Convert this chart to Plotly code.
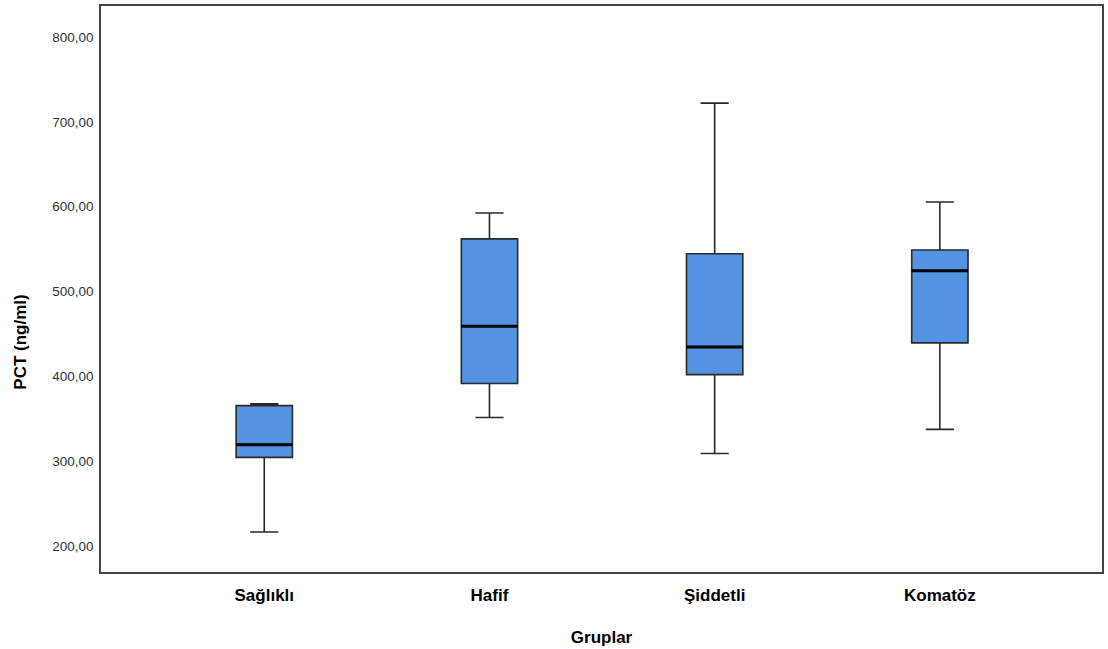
import plotly.graph_objects as go

groups = ["Sağlıklı", "Hafif", "Şiddetli", "Komatöz"]
q1_vals = [304.5, 391.5, 402.0, 439.5]
median_vals = [319.5, 459.0, 434.5, 524.5]
q3_vals = [365.5, 562.0, 544.5, 549.0]
lower_vals = [216.5, 351.5, 309.0, 337.5]
upper_vals = [367.5, 592.5, 722.0, 605.5]
y_ticks = [200, 300, 400, 500, 600, 700, 800]

positions = list(range(len(groups)))
box_half = 0.125

fig = go.Figure()
fig.add_trace(go.Box(
    x=positions,
    q1=q1_vals, median=median_vals, q3=q3_vals,
    lowerfence=lower_vals, upperfence=upper_vals,
    width=2 * box_half,
    whiskerwidth=0.5,
    fillcolor="#5393E2",
    line=dict(color="#2a2a2a", width=1.6),
    boxpoints=False,
    hoverinfo="skip",
    showlegend=False,
))

mx, my = [], []
for p, m in zip(positions, median_vals):
    mx += [p - box_half, p + box_half, None]
    my += [m, m, None]
fig.add_trace(go.Scatter(
    x=mx, y=my, mode="lines",
    line=dict(color="#000000", width=3),
    hoverinfo="skip", showlegend=False,
))

fig.update_layout(
    width=1108, height=649,
    margin=dict(l=101, r=4, t=4, b=77),
    paper_bgcolor="white", plot_bgcolor="white",
    separators=",.",
    font=dict(family="Liberation Sans, Arial, sans-serif", color="#222222"),
    xaxis=dict(
        range=[-0.725, 3.72],
        tickvals=positions, ticktext=groups,
        tickfont=dict(size=17, family="Liberation Sans, Arial, sans-serif",
                      color="#000000", weight="bold"),
        ticklabelstandoff=7,
        showgrid=False, zeroline=False,
        showline=True, linecolor="#444444", linewidth=1.5, mirror=True,
        ticks="",
        title=dict(text="Gruplar", font=dict(size=17, color="#000000", weight="bold"),
                   standoff=27),
    ),
    yaxis=dict(
        range=[169.4, 836.5],
        tickvals=y_ticks, tickformat=".2f",
        tickfont=dict(size=13.5, color="#333333"),
        ticklabelstandoff=3,
        showgrid=False, zeroline=False,
        showline=True, linecolor="#444444", linewidth=1.5, mirror=True,
        ticks="",
    ),
    annotations=[dict(
        text="PCT (ng/ml)", textangle=-90,
        xref="paper", yref="paper", x=-0.0807, y=0.4056,
        xanchor="center", yanchor="middle", showarrow=False,
        font=dict(size=17, color="#000000", weight="bold",
                  family="Liberation Sans, Arial, sans-serif"),
    )],
)

fig.write_html("out.html")
